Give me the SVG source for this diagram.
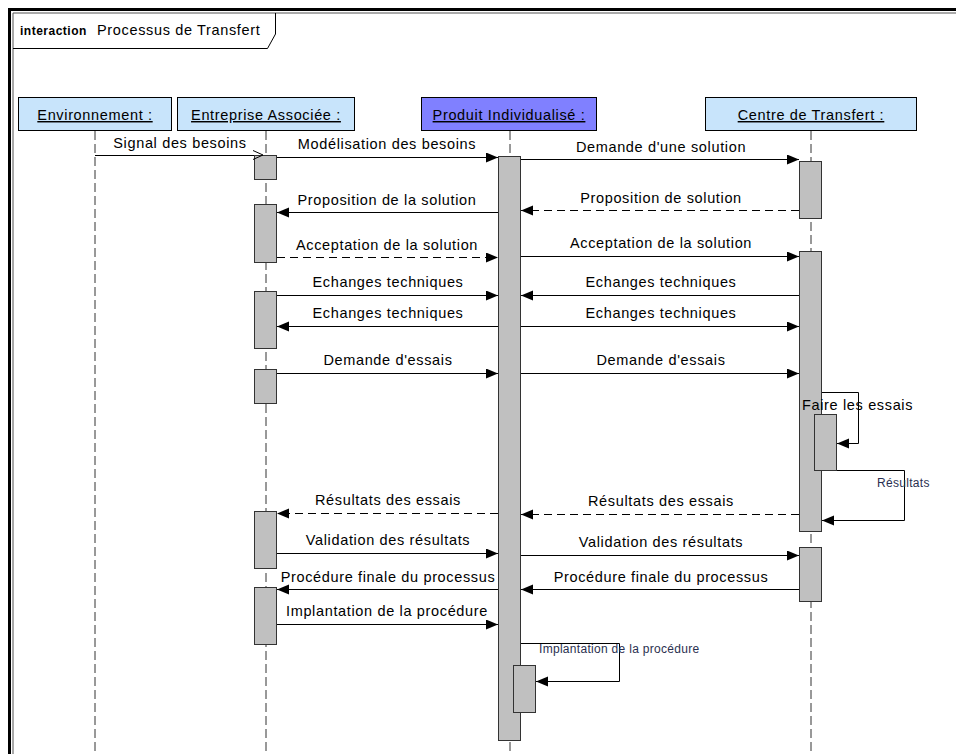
<svg xmlns="http://www.w3.org/2000/svg" width="956" height="754" viewBox="0 0 956 754">
<defs>
<marker id="arr" markerUnits="userSpaceOnUse" markerWidth="13" markerHeight="11" refX="12" refY="5" orient="auto">
<path d="M0,0 L12,5 L0,10 z" fill="#000"/>
</marker>
<style>
.t{font-family:"Liberation Sans",Arial,sans-serif;font-size:14.5px;letter-spacing:0.65px;fill:#000}
.c{text-anchor:middle}
.s{font-family:"Liberation Sans",Arial,sans-serif;font-size:12px;letter-spacing:0.3px;fill:#2a3050}
.head{stroke:#000;stroke-width:1}
.ll{stroke:#333;stroke-width:1;stroke-dasharray:9 4;fill:none}
.bar{fill:#c0c0c0;stroke:#333;stroke-width:1}
.m{stroke:#000;stroke-width:1;fill:none;marker-end:url(#arr)}
.d{stroke-dasharray:8 5}
</style>
</defs>
<rect width="956" height="754" fill="#fff"/>
<g id="frame">
<path d="M9.5,754 V9.5 H956" fill="none" stroke="#000" stroke-width="3"/>
<path d="M13,754 V13 H956" fill="none" stroke="#555" stroke-width="1"/>
<path d="M13,48.5 H267.5 L275.5,34 V13" fill="none" stroke="#000" stroke-width="1"/>
<text x="20" y="35" style="font-family:'Liberation Sans',Arial,sans-serif;font-size:12px;font-weight:bold;letter-spacing:0.5px">interaction</text>
<text x="97" y="35" class="t">Processus de Transfert</text>
</g>
<g id="lifelines">
<line class="ll" x1="95" y1="131" x2="95" y2="754"/>
<line class="ll" x1="266" y1="131" x2="266" y2="754"/>
<line class="ll" x1="510" y1="131" x2="510" y2="754"/>
<line class="ll" x1="811" y1="131" x2="811" y2="754"/>
</g>
<g id="env">
<rect class="head" x="18.5" y="97.5" width="153" height="33" fill="#c8e4fb"/>
<text x="95" y="120" class="t c" text-decoration="underline">Environnement :</text>
</g>
<g id="entreprise">
<rect class="head" x="177.5" y="97.5" width="177" height="33" fill="#c8e4fb"/>
<text x="266" y="120" class="t c" text-decoration="underline">Entreprise Associée :</text>
<rect class="bar" x="254.5" y="155.5" width="22" height="24"/>
<rect class="bar" x="254.5" y="204.5" width="22" height="58"/>
<rect class="bar" x="254.5" y="291.5" width="22" height="57"/>
<rect class="bar" x="254.5" y="369.5" width="22" height="34"/>
<rect class="bar" x="254.5" y="511.5" width="22" height="57"/>
<rect class="bar" x="254.5" y="587.5" width="22" height="57"/>
</g>
<g id="produit">
<rect class="head" x="421.5" y="97.5" width="175" height="33" fill="#8080ff"/>
<text x="509" y="120" class="t c" text-decoration="underline">Produit Individualisé :</text>
<rect class="bar" x="498.5" y="156.5" width="22" height="584"/>
<rect class="bar" x="513.5" y="665.5" width="22" height="47"/>
</g>
<g id="centre">
<rect class="head" x="705.5" y="97.5" width="211" height="33" fill="#c8e4fb"/>
<text x="811" y="120" class="t c" text-decoration="underline">Centre de Transfert :</text>
<rect class="bar" x="799.5" y="161.5" width="22" height="57"/>
<rect class="bar" x="799.5" y="251.5" width="22" height="280"/>
<rect class="bar" x="814.5" y="414.5" width="22" height="56"/>
<rect class="bar" x="799.5" y="547.5" width="22" height="54"/>
</g>
<g id="connectors">
<line x1="95" y1="155.5" x2="254" y2="155.5" stroke="#000" stroke-width="1"/>
<polyline points="253,150.5 263,155 253,159.5" fill="none" stroke="#000" stroke-width="1"/>
<text x="180" y="148" class="t c">Signal des besoins</text>

<line class="m" x1="277" y1="157.5" x2="498" y2="157.5"/>
<text x="387" y="149" class="t c">Modélisation des besoins</text>
<line class="m" x1="521" y1="159.5" x2="799" y2="159.5"/>
<text x="661" y="152" class="t c">Demande d'une solution</text>

<line class="m d" x1="799" y1="210.5" x2="521" y2="210.5"/>
<text x="661" y="203" class="t c">Proposition de solution</text>
<line class="m" x1="498" y1="212.5" x2="277" y2="212.5"/>
<text x="387" y="205" class="t c">Proposition de la solution</text>

<line class="m d" x1="277" y1="257.5" x2="498" y2="257.5"/>
<text x="387" y="250" class="t c">Acceptation de la solution</text>
<line class="m" x1="521" y1="256.5" x2="799" y2="256.5"/>
<text x="661" y="248" class="t c">Acceptation de la solution</text>

<line class="m" x1="277" y1="295.5" x2="498" y2="295.5"/>
<text x="388" y="287" class="t c">Echanges techniques</text>
<line class="m" x1="799" y1="295.5" x2="521" y2="295.5"/>
<text x="661" y="287" class="t c">Echanges techniques</text>

<line class="m" x1="498" y1="326.5" x2="277" y2="326.5"/>
<text x="388" y="318" class="t c">Echanges techniques</text>
<line class="m" x1="521" y1="326.5" x2="799" y2="326.5"/>
<text x="661" y="318" class="t c">Echanges techniques</text>

<line class="m" x1="277" y1="373.5" x2="498" y2="373.5"/>
<text x="388" y="365" class="t c">Demande d'essais</text>
<line class="m" x1="521" y1="373.5" x2="799" y2="373.5"/>
<text x="661" y="365" class="t c">Demande d'essais</text>

<polyline class="m" points="822,392.5 858.5,392.5 858.5,443.5 837,443.5"/>
<text x="802" y="410" class="t">Faire les essais</text>
<polyline class="m" points="837,470.5 904.5,470.5 904.5,520.5 822,520.5"/>
<text x="877" y="487" class="s">Résultats</text>

<line class="m d" x1="498" y1="513.5" x2="277" y2="513.5"/>
<text x="388" y="505" class="t c">Résultats des essais</text>
<line class="m d" x1="799" y1="514.5" x2="521" y2="514.5"/>
<text x="661" y="506" class="t c">Résultats des essais</text>

<line class="m" x1="277" y1="553.5" x2="498" y2="553.5"/>
<text x="388" y="545" class="t c">Validation des résultats</text>
<line class="m" x1="521" y1="555.5" x2="799" y2="555.5"/>
<text x="661" y="547" class="t c">Validation des résultats</text>

<line class="m" x1="498" y1="589.5" x2="277" y2="589.5"/>
<text x="388" y="582" class="t c">Procédure finale du processus</text>
<line class="m" x1="799" y1="589.5" x2="521" y2="589.5"/>
<text x="661" y="582" class="t c">Procédure finale du processus</text>

<line class="m" x1="277" y1="624.5" x2="498" y2="624.5"/>
<text x="387" y="616" class="t c">Implantation de la procédure</text>

<polyline class="m" points="521,643.5 619.5,643.5 619.5,681.5 536,681.5"/>
<text x="539" y="653" class="s">Implantation de la procédure</text>
</g>
</svg>
